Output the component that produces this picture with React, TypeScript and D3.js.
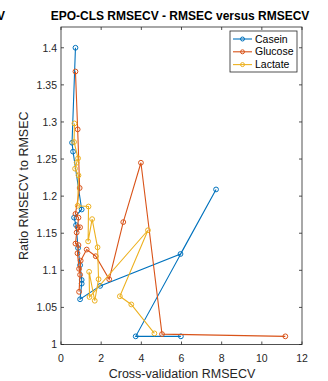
import React from "react";
import * as d3 from "d3";

const caseinX = [0.72, 0.55, 0.6, 1.03, 0.65, 0.75, 0.85, 0.95, 1.03, 1.03, 0.95, 1.95, 5.95, 7.72, 3.72, 5.97];
const caseinY = [1.4, 1.272, 1.26, 1.182, 1.171, 1.161, 1.13, 1.107, 1.087, 1.082, 1.061, 1.079, 1.122, 1.209, 1.011, 1.011];

const glucoseX = [0.72, 0.83, 0.93, 0.72, 0.87, 0.83, 0.95, 0.78, 0.72, 0.87, 0.82, 0.9, 0.95, 0.9, 0.98, 1.28, 1.73, 2.4, 3.1, 3.98, 5.03, 11.17];
const glucoseY = [1.368, 1.29, 1.211, 1.176, 1.171, 1.158, 1.158, 1.151, 1.136, 1.134, 1.123, 1.102, 1.094, 1.071, 1.113, 1.128, 1.119, 1.088, 1.165, 1.245, 1.014, 1.011];

const lactateX = [0.67, 0.65, 0.85, 0.78, 0.7, 0.87, 0.83, 1.37, 1.35, 1.55, 1.82, 1.87, 1.68, 1.4, 1.42, 4.33, 2.93, 3.5, 4.65];
const lactateY = [1.298, 1.273, 1.251, 1.245, 1.237, 1.228, 1.187, 1.186, 1.139, 1.169, 1.131, 1.088, 1.059, 1.098, 1.064, 1.154, 1.065, 1.054, 1.015];

const seriesNames = ["Casein", "Glucose", "Lactate"];
const seriesColors = ["#0072BD", "#D95319", "#EDB120"];
const xTicks = [0, 2, 4, 6, 8, 10, 12];
const yTicks = [1, 1.05, 1.1, 1.15, 1.2, 1.25, 1.3, 1.35, 1.4];

const W = 328, H = 381;
const L = 61, R = 302, T = 27, B = 344.5;
const font = "'Liberation Sans', Arial, Helvetica, sans-serif";

export default function App() {
  const x = d3.scaleLinear().domain([0, 12]).range([L, R]);
  const y = d3.scaleLinear().domain([1, 1.428]).range([B, T]);
  const line = d3.line<[number, number]>().x(d => x(d[0])).y(d => y(d[1]));
  const series = [
    caseinX.map((v, i) => [v, caseinY[i]] as [number, number]),
    glucoseX.map((v, i) => [v, glucoseY[i]] as [number, number]),
    lactateX.map((v, i) => [v, lactateY[i]] as [number, number]),
  ];
  const axisColor = "#262626";
  const tl = 3;
  return (
    <svg width={W} height={H} style={{ position: "absolute", left: 0, top: 0, background: "#fff" }} fontFamily={font}>
      <rect x={0} y={0} width={W} height={H} fill="#fff" />
      <text x={5} y={20} textAnchor="end" fontSize={12} fontWeight="bold" fill="#000">RMSECV</text>
      <text x={180} y={20} textAnchor="middle" fontSize={12} fontWeight="bold" fill="#000">EPO-CLS RMSECV - RMSEC versus RMSECV</text>
      <defs>
        <clipPath id="plotclip"><rect x={L} y={T - 5} width={R - L + 5} height={B - T + 5} /></clipPath>
      </defs>
      <g clipPath="url(#plotclip)">
        {series.map((s, i) => (
          <g key={i}>
            <path d={line(s) || ""} fill="none" stroke={seriesColors[i]} strokeWidth={1.1} />
            {s.map((p, j) => (
              <circle key={j} cx={x(p[0])} cy={y(p[1])} r={2.4} fill="none" stroke={seriesColors[i]} strokeWidth={1} />
            ))}
          </g>
        ))}
      </g>
      <rect x={L} y={T} width={R - L} height={B - T} fill="none" stroke={axisColor} strokeWidth={0.8} />
      {xTicks.map(t => (
        <g key={"x" + t}>
          <line x1={x(t)} x2={x(t)} y1={B} y2={B - tl} stroke={axisColor} strokeWidth={0.8} />
          <line x1={x(t)} x2={x(t)} y1={T} y2={T + tl} stroke={axisColor} strokeWidth={0.8} />
          <text x={x(t)} y={362} textAnchor="middle" fontSize={10.5} fill={axisColor}>{t}</text>
        </g>
      ))}
      {yTicks.map(t => (
        <g key={"y" + t}>
          <line x1={L} x2={L + tl} y1={y(t)} y2={y(t)} stroke={axisColor} strokeWidth={0.8} />
          <line x1={R} x2={R - tl} y1={y(t)} y2={y(t)} stroke={axisColor} strokeWidth={0.8} />
          <text x={57} y={y(t) + 3.8} textAnchor="end" fontSize={10.5} fill={axisColor}>{t}</text>
        </g>
      ))}
      <text x={182} y={378} textAnchor="middle" fontSize={12.5} fill={axisColor}>Cross-validation RMSECV</text>
      <text transform={`translate(28,${(T + B) / 2}) rotate(-90)`} textAnchor="middle" fontSize={12.5} fill={axisColor}>Ratio RMSECV to RMSEC</text>
      <g>
        <rect x={230} y={31} width={67} height={41} fill="#fff" stroke={axisColor} strokeWidth={0.8} />
        {seriesNames.map((n, i) => {
          const yy = 39 + i * 12.8;
          return (
            <g key={n}>
              <line x1={233} x2={252} y1={yy} y2={yy} stroke={seriesColors[i]} strokeWidth={1.1} />
              <circle cx={242.5} cy={yy} r={2} fill="none" stroke={seriesColors[i]} strokeWidth={1} />
              <text x={255} y={yy + 3.5} fontSize={10.5} fill="#000">{n}</text>
            </g>
          );
        })}
      </g>
    </svg>
  );
}
